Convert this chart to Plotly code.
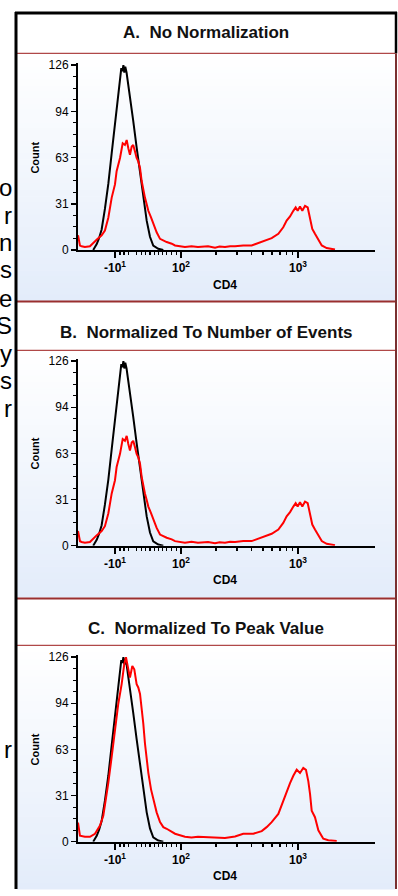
import plotly.graph_objects as go

W, H = 398, 896

# ---------------- data (x in display units: 10^2 -> 2, 10^3 -> 3) ----------------
x_tick_vals = [1.436, 2.0, 3.0]
x_tick_text = ["-10<sup>1</sup>", "10<sup>2</sup>", "10<sup>3</sup>"]
x_minor_vals = [1.479, 1.515, 1.550, 1.621, 1.664, 1.698, 1.735, 1.772, 1.806,
                1.840, 1.878, 1.921, 1.963,
                2.301, 2.477, 2.602, 2.699, 2.778, 2.845, 2.903, 2.954]
y_tick_vals = [0, 31.5, 63, 94.5, 126]
y_tick_text = ["0", "31", "63", "94", "126"]

black_x = [1.250, 1.280, 1.300, 1.322, 1.350, 1.379, 1.408, 1.430, 1.450, 1.464,
           1.479, 1.490, 1.500, 1.508, 1.516, 1.524, 1.535, 1.550, 1.564, 1.592,
           1.621, 1.650, 1.678, 1.707, 1.735, 1.763, 1.806, 1.849]
black_count = [0, 4, 8, 14, 28, 45, 66, 82, 96, 106,
               117, 124, 122, 126, 121, 125, 121, 113, 104, 88,
               70, 52, 35, 20, 9, 3, 0.8, 0]

red_x = [1.120, 1.128, 1.137, 1.151, 1.179, 1.222, 1.250, 1.279, 1.322, 1.350,
         1.379, 1.408, 1.436, 1.450, 1.479, 1.502, 1.521, 1.536, 1.550, 1.564,
         1.579, 1.592, 1.607, 1.621, 1.635, 1.650, 1.664, 1.678, 1.692, 1.707,
         1.721, 1.744, 1.763, 1.792, 1.821, 1.849, 1.878, 1.921, 1.949, 2.034,
         2.090, 2.145, 2.190, 2.231, 2.291, 2.330, 2.376, 2.420, 2.462, 2.532,
         2.604, 2.661, 2.718, 2.775, 2.832, 2.874, 2.903, 2.932, 2.960, 2.980,
         2.997, 3.017, 3.037, 3.060, 3.083, 3.103, 3.122, 3.145, 3.174, 3.203,
         3.245, 3.288, 3.316]
red_count = [10, 6, 3, 2.5, 2, 2.5, 5, 7, 10, 13.3,
             22, 35.7, 44.7, 53.7, 62.7, 72.8, 71.6, 75, 69.4, 64.9,
             70.5, 71.6, 67.2, 62.7, 60.4, 55.9, 47, 40.2, 35.7, 31.2,
             26.7, 22.2, 17.7, 12.1, 7.6, 6.5, 5.4, 4.3, 3.1, 2.0,
             2.6, 2.0, 2.4, 2.5, 1.6, 2.3, 2.0, 2.6, 2.5, 3.1,
             3.1, 4.9, 6.5, 8.1, 11, 15.5, 20, 22.9, 26.7, 29,
             26.7, 29.6, 26.7, 30.1, 29, 21.1, 14.4, 11, 6.5, 3.1,
             1.3, 0.9, 0.3]

redpk_x = [1.120, 1.128, 1.137, 1.179, 1.222, 1.265, 1.308, 1.336, 1.365, 1.379,
           1.408, 1.436, 1.464, 1.493, 1.515, 1.530, 1.550, 1.564, 1.584, 1.601,
           1.621, 1.635, 1.650, 1.664, 1.678, 1.692, 1.707, 1.721, 1.744, 1.763,
           1.792, 1.821, 1.849, 1.878, 1.921, 1.949, 2.034, 2.090, 2.145, 2.248,
           2.376, 2.462, 2.532, 2.618, 2.690, 2.732, 2.775, 2.832, 2.874, 2.903,
           2.932, 2.960, 2.989, 3.017, 3.045, 3.068, 3.088, 3.103, 3.117, 3.145,
           3.174, 3.216, 3.259, 3.331]
redpk_count = [13, 8, 4, 3.3, 3.3, 5.4, 11, 17.7, 31.2, 40.2,
               58, 76, 94, 107.6, 121, 126, 116.6, 112, 120, 117.7,
               107.6, 105.3, 100.9, 91.8, 80.6, 67.2, 56, 47, 35.7, 29,
               20, 13.3, 9.9, 8.8, 6.5, 5.4, 3.4, 2.8, 3.4, 3.1,
               2.5, 3.5, 5.4, 5.4, 7.2, 9.9, 13.3, 18.9, 28, 35,
               40, 45, 49.1, 46.9, 50.3, 49, 41.3, 32.4, 21.2, 16.7,
               7.7, 2, 0.9, 0.5]

panel_titles = ["A.\u00a0 No Normalization",
                "B.\u00a0 Normalized To Number of Events",
                "C.\u00a0 Normalized To Peak Value"]
side_letters = ["o", "r", "n", "s", "e", "S", "y", "s", "r", "r"]

# ---------------- geometry (pixels) ----------------
panels = [
    dict(top=9, tbot=49, pbot=300, zero=248.3, y126=61, ty=28),
    dict(top=301, tbot=350, pbot=600, zero=548, y126=361, ty=332),
    dict(top=602, tbot=649, pbot=896, zero=848, y126=661, ty=632),
]
side_y = [185, 213, 241, 268, 297, 325, 353, 381, 409, 755]
AX_L, AX_R = 78, 375
X_RANGE = [1.120, 3.658]
Y_TOP = 127.5


def px(x):
    return x / W


def py(y):
    return 1 - y / H


fig = go.Figure()
layout = dict(width=W, height=H, margin=dict(l=0, r=0, t=0, b=0),
              paper_bgcolor="white", plot_bgcolor="rgba(0,0,0,0)",
              showlegend=False, shapes=[], annotations=[])

series = [(red_x, red_count), (red_x, red_count), (redpk_x, redpk_count)]

tick_font = dict(family="Liberation Sans Narrow, Liberation Sans, Arial", size=12, color="black")
xtick_font = dict(family="Liberation Sans, Arial", size=12, color="black", weight="bold")

for i, p in enumerate(panels):
    sfx = "" if i == 0 else str(i + 1)
    scale = (p["zero"] - p["y126"]) / 126.0
    top_px = p["zero"] - Y_TOP * scale
    layout["xaxis" + sfx] = dict(
        domain=[px(AX_L), px(AX_R)], range=X_RANGE, anchor="y" + sfx,
        showline=True, linecolor="black", linewidth=2, showgrid=False, zeroline=False,
        ticks="outside", ticklen=6, tickwidth=2, tickcolor="black",
        tickmode="array", tickvals=x_tick_vals, ticktext=x_tick_text, tickfont=xtick_font,
        minor=dict(tickmode="array", tickvals=x_minor_vals, ticks="outside",
                   ticklen=3, tickwidth=1.5, tickcolor="black", showgrid=False),
        fixedrange=True)
    layout["yaxis" + sfx] = dict(
        domain=[py(p["zero"]), py(top_px)], range=[0, Y_TOP], anchor="x" + sfx,
        showline=True, linecolor="black", linewidth=2, showgrid=False, zeroline=False,
        ticks="outside", ticklen=5, tickwidth=1.5, tickcolor="black",
        tickmode="array", tickvals=y_tick_vals, ticktext=y_tick_text, tickfont=tick_font,
        minor=dict(dtick=7.875, tick0=0, ticks="outside", ticklen=3, tickwidth=1,
                   tickcolor="black", showgrid=False),
        fixedrange=True)

    rx, ry = series[i]
    fig.add_trace(go.Scatter(x=black_x, y=black_count, mode="lines",
                             line=dict(color="black", width=2),
                             xaxis="x" + sfx, yaxis="y" + sfx, hoverinfo="skip"))
    fig.add_trace(go.Scatter(x=rx, y=ry, mode="lines",
                             line=dict(color="#ff0000", width=2),
                             xaxis="x" + sfx, yaxis="y" + sfx, hoverinfo="skip"))

    # gradient background of plot region
    n = 40
    y0, y1 = p["tbot"] + 1, p["pbot"]
    for k in range(n):
        a = y0 + (y1 - y0) * k / n
        b = y0 + (y1 - y0) * (k + 1) / n
        f = (k + 0.5) / n
        c = (round(255 - 28 * f), round(255 - 19 * f), round(255 - 5 * f))
        layout["shapes"].append(dict(
            type="rect", xref="paper", yref="paper", layer="below",
            x0=px(17), x1=px(395), y0=py(b + 0.6), y1=py(a),
            fillcolor="rgb(%d,%d,%d)" % c, line=dict(width=0)))
    # title separator line
    layout["shapes"].append(dict(type="line", xref="paper", yref="paper",
                                 x0=px(17), x1=px(395), y0=py(p["tbot"]), y1=py(p["tbot"]),
                                 line=dict(color="#b04848", width=1.2)))
    if i > 0:
        layout["shapes"].append(dict(type="line", xref="paper", yref="paper",
                                     x0=px(17), x1=px(396), y0=py(p["top"] - 0.5), y1=py(p["top"] - 0.5),
                                     line=dict(color="#9a2f2f", width=2)))
    # title
    layout["annotations"].append(dict(
        text=panel_titles[i], x=px(206), y=py(p["ty"]), xref="paper", yref="paper",
        showarrow=False, xanchor="center", yanchor="middle",
        font=dict(family="Liberation Sans, Arial", size=17, color="#111111", weight="bold")))
    # axis titles
    layout["annotations"].append(dict(
        text="Count", x=px(35), y=py((p["zero"] + p["y126"]) / 2), xref="paper", yref="paper",
        showarrow=False, textangle=-90, xanchor="center", yanchor="middle",
        font=dict(family="Liberation Sans, Arial", size=11, color="black", weight="bold")))
    layout["annotations"].append(dict(
        text="CD4", x=px(225), y=py(p["zero"] + 35), xref="paper", yref="paper",
        showarrow=False, xanchor="center", yanchor="middle",
        font=dict(family="Liberation Sans, Arial", size=12, color="black", weight="bold")))

# outer frame
layout["shapes"].append(dict(type="line", xref="paper", yref="paper",
                             x0=px(16), x1=px(16), y0=py(7), y1=py(896),
                             line=dict(color="black", width=3)))
layout["shapes"].append(dict(type="line", xref="paper", yref="paper",
                             x0=px(15), x1=px(397), y0=py(8), y1=py(8),
                             line=dict(color="black", width=3)))
layout["shapes"].append(dict(type="line", xref="paper", yref="paper",
                             x0=px(396), x1=px(396), y0=py(7), y1=py(49),
                             line=dict(color="black", width=2.5)))
layout["shapes"].append(dict(type="line", xref="paper", yref="paper",
                             x0=px(396), x1=px(396), y0=py(49), y1=py(896),
                             line=dict(color="#7a3030", width=2)))

# cut-off text at the left edge
for letter, yy in zip(side_letters, side_y):
    layout["annotations"].append(dict(
        text=letter, x=px(14), y=py(yy), xref="paper", yref="paper",
        showarrow=False, xanchor="right", yanchor="middle",
        font=dict(family="Liberation Sans, Arial", size=24, color="black")))

fig.update_layout(**layout)
fig.write_html("out.html", config={"displayModeBar": False, "staticPlot": True},
               post_script="document.body.style.margin='0';document.body.style.overflow='hidden';")
